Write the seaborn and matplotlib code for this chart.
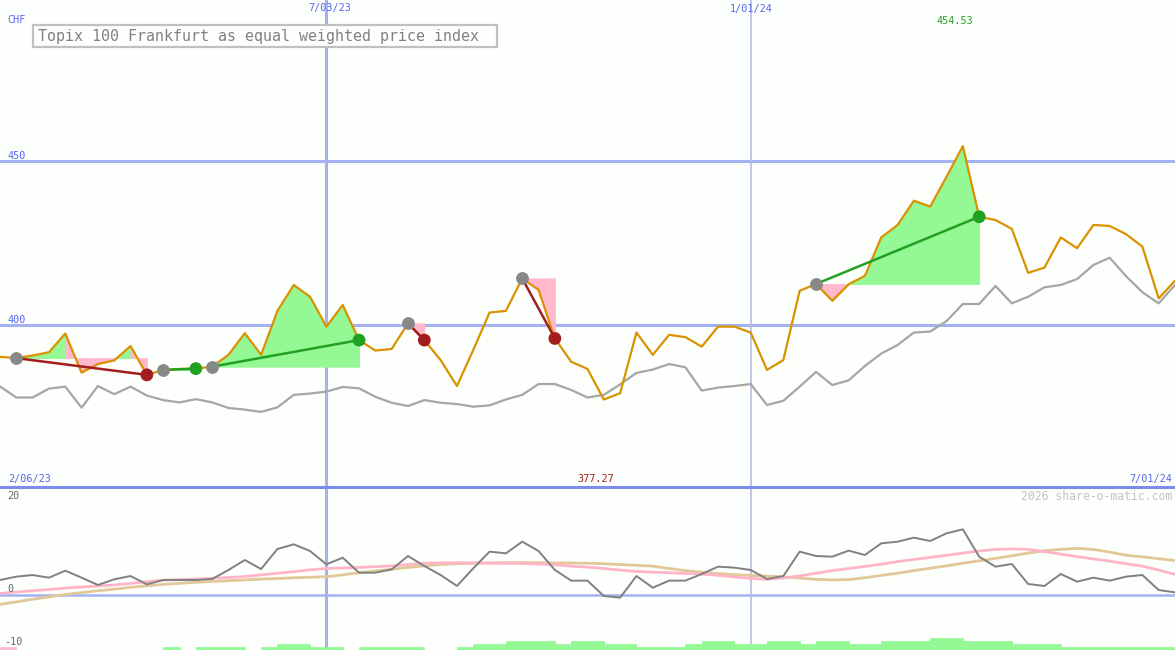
import numpy as np
import pandas as pd
import matplotlib
matplotlib.use('Agg')
import matplotlib.pyplot as plt
from matplotlib.patches import Rectangle
import seaborn as sns

# weekly closes, Topix 100 Frankfurt (equal weighted), CHF
dates = pd.date_range('2023-02-13', periods=73, freq='7D')
price = [390.3, 389.9, 390.7, 391.7, 397.4, 385.5, 388.1, 389.2, 393.6, 384.8,
         386.3, 386.6, 386.7, 387.3, 390.9, 397.5, 390.9, 404.3, 412.2, 408.6,
         399.5, 406.1, 395.4, 392.2, 392.7, 400.5, 395.4, 389.3, 381.4, 392.4,
         403.8, 404.3, 414.2, 410.7, 395.9, 388.8, 386.6, 377.27, 379.2, 397.7,
         390.9, 397.0, 396.3, 393.4, 399.5, 399.5, 397.7, 386.3, 389.3, 410.4,
         412.5, 407.4, 412.4, 415.0, 426.7, 430.5, 437.9, 436.1, 445.2, 454.53,
         433.0, 432.0, 429.3, 415.9, 417.5, 426.7, 423.4, 430.5, 430.2, 427.7,
         423.9, 408.1, 413.5]
# comparison index (grey line)
relative = [381.25, 377.9, 377.9, 380.6, 381.2, 374.8, 381.4, 378.9, 381.2, 378.5,
            377.1, 376.4, 377.4, 376.4, 374.7, 374.2, 373.5, 374.9, 378.7, 379.1,
            379.7, 381.1, 380.7, 378.1, 376.3, 375.3, 377.1, 376.3, 375.9, 375.1,
            375.5, 377.3, 378.7, 382.0, 382.0, 380.2, 377.9, 378.7, 381.9, 385.4,
            386.4, 388.1, 387.1, 380.0, 380.9, 381.4, 382.0, 375.6, 376.9, 381.2,
            385.7, 381.7, 383.1, 387.5, 391.3, 393.9, 397.7, 398.0, 401.2, 406.4,
            406.4, 411.9, 406.6, 408.6, 411.5, 412.2, 414.0, 418.3, 420.5, 414.9,
            410.0, 406.6, 412.2]
# lower panel
momentum = [2.83, 3.46, 3.77, 3.27, 4.59, 3.27, 1.89, 2.96, 3.58, 2.01,
            2.83, 2.83, 2.83, 3.02, 4.72, 6.6, 4.9, 8.68, 9.56, 8.3,
            5.79, 7.04, 4.21, 4.21, 4.84, 7.36, 5.47, 3.77, 1.70, 5.03,
            8.18, 7.86, 10.06, 8.3, 4.72, 2.71, 2.71, -0.19, -0.5, 3.58,
            1.38, 2.71, 2.71, 3.96, 5.35, 5.16, 4.72, 3.02, 3.58, 8.18,
            7.36, 7.23, 8.37, 7.55, 9.75, 10.06, 10.82, 10.19, 11.64, 12.39,
            7.23, 5.35, 5.85, 2.08, 1.70, 3.96, 2.52, 3.27, 2.71, 3.46,
            3.77, 0.94, 0.5]
ma_fast = [0.3, 0.55, 0.8, 1.05, 1.3, 1.5, 1.7, 1.9, 2.2, 2.5,
           2.8, 2.9, 3.0, 3.15, 3.3, 3.5, 3.8, 4.1, 4.4, 4.75,
           5.0, 5.1, 5.2, 5.35, 5.5, 5.75, 6.0, 6.05, 6.1, 6.05,
           6.0, 6.0, 5.95, 5.85, 5.7, 5.45, 5.25, 5.0, 4.7, 4.45,
           4.3, 4.2, 4.05, 3.95, 3.7, 3.4, 3.15, 2.95, 3.2, 3.6,
           4.1, 4.6, 5.0, 5.4, 5.8, 6.3, 6.7, 7.1, 7.5, 7.9,
           8.3, 8.6, 8.7, 8.6, 8.2, 7.7, 7.25, 6.8, 6.4, 5.9,
           5.45, 4.7, 3.9]
ma_slow = [-1.76, -1.3, -0.8, -0.35, 0.1, 0.45, 0.8, 1.1, 1.45, 1.75,
           2.0, 2.2, 2.4, 2.55, 2.7, 2.85, 3.0, 3.1, 3.25, 3.35,
           3.46, 3.8, 4.2, 4.55, 4.85, 5.2, 5.5, 5.75, 5.9, 6.0,
           6.05, 6.1, 6.1, 6.1, 6.05, 6.05, 6.0, 5.9, 5.75, 5.6,
           5.45, 5.0, 4.6, 4.3, 4.05, 3.85, 3.7, 3.55, 3.45, 3.2,
           2.95, 2.85, 2.9, 3.25, 3.7, 4.1, 4.6, 5.05, 5.5, 6.0,
           6.45, 6.9, 7.4, 7.9, 8.35, 8.6, 8.8, 8.6, 8.1, 7.5,
           7.2, 6.85, 6.5]
# signal strength bars at the bottom (negative = pink)
bar_level = [-1, 0, 0, 0, 0, 0, 0, 0, 0, 0,
             1, 0, 1, 1, 1, 0, 1, 2, 2, 1,
             1, 0, 1, 1, 1, 1, 0, 0, 1, 2,
             2, 3, 3, 3, 2, 3, 3, 2, 2, 1,
             1, 1, 2, 3, 3, 2, 2, 3, 3, 2,
             3, 3, 2, 2, 3, 3, 3, 4, 4, 3,
             3, 3, 2, 2, 2, 1, 1, 1, 1, 1,
             1, 1, 1]
# trades: entry week index -> exit week index
entries = [1, 10, 13, 25, 32, 50]
exits = [9, 12, 22, 26, 34, 60]

title = 'Topix 100 Frankfurt as equal weighted price index'
vlines = [pd.Timestamp('2023-07-03'), pd.Timestamp('2024-01-01')]

BG = '#fcfffc'
BLUE_LBL = '#5566ee'
GRID = '#a4b2f2'

sns.set_style('white')
plt.rcParams['font.family'] = ['DejaVu Sans Mono']

W, H = 1175, 650
fig = plt.figure(figsize=(W / 100, H / 100), dpi=100, facecolor=BG)
ax1 = fig.add_axes([0, 163 / H, 1, 487 / H])
ax2 = fig.add_axes([0, 0, 1, 162 / H])
for ax in (ax1, ax2):
    ax.set_facecolor(BG)
    ax.set_xlim(dates[0], dates[-1])
    ax.set_xticks([])
    ax.set_yticks([])
    for s in ax.spines.values():
        s.set_visible(False)

ax1.set_ylim(400 - 162 / 3.28, 450 + 161 / 3.28)
ax2.set_ylim(-55 / 5.3, 107 / 5.3)

# grid
for v in (400, 450):
    ax1.axhline(v, color=GRID, lw=2.2, zorder=1)
ax2.axhline(0, color=GRID, lw=1.8, zorder=1)
for ax in (ax1, ax2):
    ax.axvline(vlines[0], color=GRID, lw=2.2, zorder=1)
    ax.axvline(vlines[1], color='#b4bce6', lw=1.2, zorder=1)

p = np.array(price)
# profit / loss shading between entry level and price
for e, x in zip(entries, exits):
    base = p[e]
    for i in range(e, x):
        col = '#94f894' if p[i + 1] >= base else '#ffb8cc'
        ax1.fill_between(dates[i:i + 2], p[i:i + 2], base, facecolor=col,
                         edgecolor=col, lw=0.6, zorder=2)

sns.lineplot(x=dates, y=relative, ax=ax1, color='#a6a6a6', lw=1.6, zorder=3)
sns.lineplot(x=dates, y=price, ax=ax1, color='#da9200', lw=1.6, zorder=4)

for e, x in zip(entries, exits):
    win = p[x] >= p[e]
    ax1.plot([dates[e], dates[x]], [p[e], p[x]], color='#22a022' if win else '#a21e1e',
             lw=1.8, zorder=5)
ax1.scatter(dates[entries], p[entries], s=85, color='#888888', zorder=6, lw=0)
ex_col = ['#22a022' if p[x] >= p[e] else '#a21e1e' for e, x in zip(entries, exits)]
ax1.scatter(dates[exits], p[exits], s=85, color=ex_col, zorder=7, lw=0)

# lower panel
lv = np.array(bar_level)
bottom = ax2.get_ylim()[0]
bar_cols = ['#ffb8cc' if v < 0 else '#94f894' for v in lv]
ax2.bar(dates, np.abs(lv) * 0.57, width=7, align='edge', bottom=bottom,
        color=bar_cols, edgecolor=bar_cols, lw=0.5, zorder=2)
sns.lineplot(x=dates, y=ma_slow, ax=ax2, color='#e2c898', lw=2, zorder=3)
sns.lineplot(x=dates, y=ma_fast, ax=ax2, color='#ffb4c8', lw=2, zorder=4)
sns.lineplot(x=dates, y=momentum, ax=ax2, color='#808080', lw=1.4, zorder=5)

# separator
fig.add_artist(plt.Line2D([0, 1], [163 / H, 163 / H], color='#7c8cee', lw=2.2))


def fx(x):
    return x / W


def fy(y):
    return 1 - y / H


small = 7.3
fig.text(fx(7), fy(20), 'CHF', color=BLUE_LBL, fontsize=small, va='center')
fig.text(fx(7), fy(156), '450', color=BLUE_LBL, fontsize=small, va='center')
fig.text(fx(7), fy(320), '400', color=BLUE_LBL, fontsize=small, va='center')
fig.text(fx(330), fy(8), '7/03/23', color=BLUE_LBL, fontsize=small, va='center', ha='center')
fig.text(fx(751), fy(9), '1/01/24', color=BLUE_LBL, fontsize=small, va='center', ha='center')
fig.text(fx(8), fy(479), '2/06/23', color=BLUE_LBL, fontsize=small, va='center')
fig.text(fx(1172), fy(479), '7/01/24', color=BLUE_LBL, fontsize=small, va='center', ha='right')
fig.text(fx(596), fy(479), f'{min(price):.2f}', color='#a21e1e', fontsize=small, va='center', ha='center')
fig.text(fx(955), fy(21), f'{max(price):.2f}', color='#22a022', fontsize=small, va='center', ha='center')
fig.text(fx(7), fy(496), '20', color='#666666', fontsize=small, va='center')
fig.text(fx(7), fy(589), '0', color='#666666', fontsize=small, va='center')
fig.text(fx(4), fy(642), '-10', color='#666666', fontsize=small, va='center')
fig.text(fx(1172), fy(496), '2026 share-o-matic.com', color='#c4c4c4', fontsize=8.3,
         va='center', ha='right')

fig.add_artist(Rectangle((fx(33), fy(47)), fx(464), 22 / H, transform=fig.transFigure,
                         facecolor=BG, edgecolor='#c0c0c0', lw=1.6, zorder=10))
fig.text(fx(38), fy(36.5), title, color='#808080', fontsize=10.8, va='center', zorder=11)

fig.savefig('out.png', dpi=100, facecolor=BG)
